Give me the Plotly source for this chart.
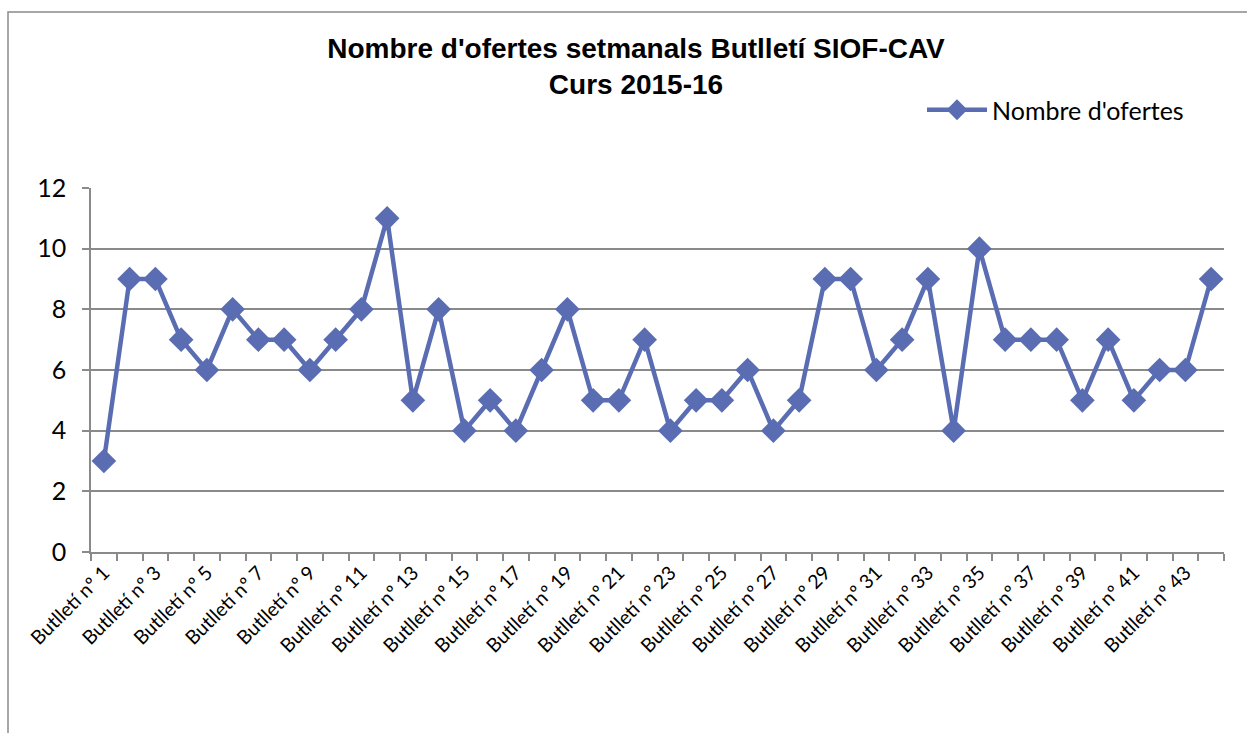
import plotly.graph_objects as go

categories = [f"Butlletí nº {i}" for i in range(1, 45)]
values = [3, 9, 9, 7, 6, 8, 7, 7, 6, 7, 8, 11, 5, 8, 4, 5, 4, 6, 8, 5, 5, 7,
          4, 5, 5, 6, 4, 5, 9, 9, 6, 7, 9, 4, 10, 7, 7, 7, 5, 7, 5, 6, 6, 9]
tick_text = [c if i % 2 == 0 else "" for i, c in enumerate(categories)]
series_name = "Nombre d'ofertes"
title_text = "<b>Nombre d'ofertes setmanals Butlletí SIOF-CAV<br>Curs 2015-16</b>"

W, H = 1247, 733
L, R, T, B = 91, 1224, 188, 552
pw, ph = R - L, B - T

color = "#5a6db3"
grid = "#8a8a8a"

fig = go.Figure()
fig.add_trace(go.Scatter(
    x=categories, y=values, mode="lines+markers", name=series_name,
    line=dict(color=color, width=4.5),
    marker=dict(symbol="diamond", size=19, color=color),
))

fig.update_layout(
    width=W, height=H,
    margin=dict(l=L, r=W - R, t=T, b=H - B, pad=0),
    paper_bgcolor="white", plot_bgcolor="white",
    title=dict(text=title_text, x=636 / W, xanchor="center", y=1 - 58 / H, yanchor="top",
               font=dict(family="Liberation Sans, Arial", size=28, color="black")),
    showlegend=True,
    legend=dict(x=(922 - L) / pw, xanchor="left", y=(B - 110) / ph, yanchor="middle",
                font=dict(family="Lato, Calibri", size=25, color="black"),
                itemwidth=60, bgcolor="rgba(0,0,0,0)", tracegroupgap=0),
    xaxis=dict(
        type="category", range=[-0.5, 43.5],
        tickmode="array", tickvals=categories, ticktext=tick_text,
        tickson="boundaries", ticks="outside", ticklen=7, tickwidth=1.5, tickcolor=grid,
        tickangle=-45, tickfont=dict(family="Lato, Calibri", size=19.5, color="black"),
        showgrid=False, showline=True, linecolor=grid, linewidth=1.5, zeroline=False,
    ),
    yaxis=dict(
        range=[0, 12], dtick=2, tick0=0,
        ticks="outside", ticklen=7, tickwidth=1.5, tickcolor=grid,
        ticklabelstandoff=11,
        tickfont=dict(family="Lato, Calibri", size=25, color="black"),
        showgrid=True, gridcolor=grid, gridwidth=1.5,
        showline=True, linecolor=grid, linewidth=1.5, zeroline=False,
    ),
    shapes=[dict(
        type="rect", xref="paper", yref="paper",
        x0=(8 - L) / pw, x1=(W + 20 - L) / pw,
        y0=(B - (H + 20)) / ph, y1=(B - 12) / ph,
        line=dict(color="#8a8a8a", width=1.5), fillcolor="rgba(0,0,0,0)", layer="below",
    )],
)

fig.write_html("out.html", config={"displayModeBar": False},
               post_script="document.body.style.margin='0px';")
